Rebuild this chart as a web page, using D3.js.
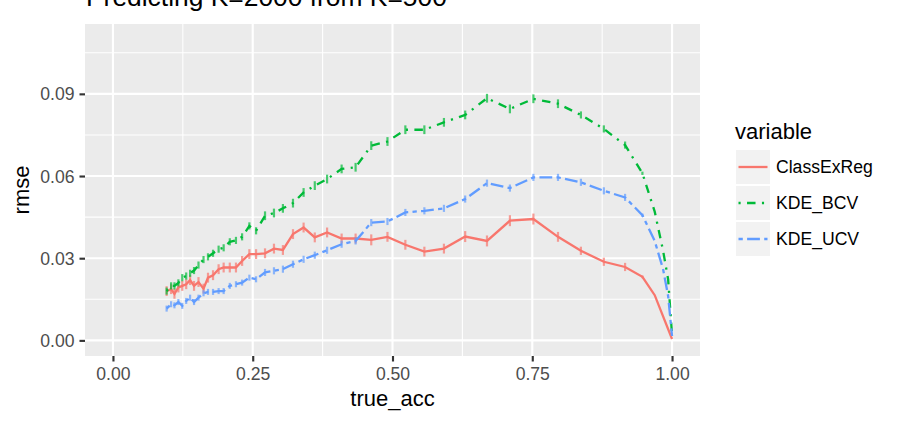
<!DOCTYPE html>
<html>
<head>
<meta charset="utf-8">
<script src="https://cdn.jsdelivr.net/npm/d3@7"></script>
<style>
  body { margin: 0; background: #fff; }
  text { font-family: "Liberation Sans", Arial, Helvetica, sans-serif; }
</style>
</head>
<body>
<script>
var width = 900, height = 424;

// shared x positions (true accuracy)
var trueAcc = [0.096, 0.104, 0.110, 0.117, 0.124, 0.131, 0.138, 0.145, 0.153, 0.162,
  0.170, 0.179, 0.189, 0.198, 0.209, 0.220, 0.231, 0.244, 0.256, 0.272,
  0.288, 0.304, 0.322, 0.341, 0.361, 0.383, 0.409, 0.434, 0.462, 0.491,
  0.523, 0.557, 0.592, 0.630, 0.669, 0.710, 0.752, 0.796, 0.837, 0.878,
  0.916, 0.947, 0.969, 0.984, 0.993, 1.000];

var classExReg = [0.0180, 0.0187, 0.0170, 0.0193, 0.0199, 0.0205, 0.0220, 0.0199, 0.0213, 0.0189,
  0.0229, 0.0238, 0.0260, 0.0266, 0.0266, 0.0266, 0.0290, 0.0315, 0.0315, 0.0318,
  0.0335, 0.0330, 0.0388, 0.0412, 0.0376, 0.0394, 0.0372, 0.0372, 0.0367, 0.0378,
  0.0349, 0.0324, 0.0335, 0.0379, 0.0363, 0.0437, 0.0443, 0.0378, 0.0327, 0.0287,
  0.0268, 0.0232, 0.0165, null, null, 0.0005];

var kdeBCV = [0.0180, 0.0199, 0.0199, 0.0210, 0.0229, 0.0235, 0.0245, 0.0255, 0.0275, 0.0295,
  0.0305, 0.0318, 0.0333, 0.0338, 0.0360, 0.0365, 0.0378, 0.0418, 0.0400, 0.0455,
  0.0465, 0.0482, 0.0501, 0.0540, 0.0565, 0.0589, 0.0626, 0.0632, 0.0711, 0.0726,
  0.0769, 0.0769, 0.0796, 0.0823, 0.0884, 0.0845, 0.0882, 0.0864, 0.0823, 0.0772,
  0.0713, 0.0610, 0.0470, 0.0327, 0.0223, 0.0020];

var kdeUCV = [0.0116, 0.0132, 0.0128, 0.0140, 0.0126, 0.0144, 0.0156, 0.0140, 0.0156, 0.0172,
  0.0177, 0.0177, 0.0180, 0.0180, 0.0199, 0.0205, 0.0211, 0.0229, 0.0223, 0.0248,
  0.0254, 0.0260, 0.0278, 0.0296, 0.0311, 0.0329, 0.0351, 0.0363, 0.0430, 0.0434,
  0.0467, 0.0473, 0.0482, 0.0516, 0.0574, 0.0556, 0.0595, 0.0595, 0.0577, 0.0546,
  0.0522, 0.0457, 0.0363, 0.0260, 0.0162, 0.0016];

// half-width of the error bars
var errClassExReg = [0.0018, 0.0018, 0.0018, 0.0018, 0.0018, 0.0018, 0.0018, 0.0018, 0.0018, 0.0018,
  0.0018, 0.0018, 0.0018, 0.0018, 0.0018, 0.0018, 0.0018, 0.0018, 0.0018, 0.0018,
  0.0018, 0.0018, 0.0018, 0.0018, 0.0018, 0.0018, 0.0018, 0.0018, 0.0020, 0.0018,
  0.0018, 0.0018, 0.0018, 0.0020, 0.0020, 0.0020, 0.0020, 0.0018, 0.0015, 0.0015,
  0.0015, 0.0005, 0, 0, 0, 0];
var errBCV = [0.0013, 0.0013, 0.0013, 0.0013, 0.0013, 0.0013, 0.0013, 0.0013, 0.0013, 0.0013,
  0.0013, 0.0013, 0.0013, 0.0013, 0.0013, 0.0013, 0.0013, 0.0013, 0.0013, 0.0016,
  0.0016, 0.0016, 0.0016, 0.0016, 0.0016, 0.0016, 0.0016, 0.0016, 0.0016, 0.0016,
  0.0016, 0.0016, 0.0016, 0.0016, 0.0016, 0.0016, 0.0016, 0.0016, 0.0013, 0.0013,
  0.0013, 0.0006, 0, 0, 0, 0];
var errUCV = [0.0011, 0.0011, 0.0011, 0.0011, 0.0011, 0.0011, 0.0011, 0.0011, 0.0011, 0.0011,
  0.0011, 0.0011, 0.0011, 0.0011, 0.0011, 0.0011, 0.0011, 0.0011, 0.0011, 0.0013,
  0.0013, 0.0013, 0.0013, 0.0013, 0.0013, 0.0013, 0.0013, 0.0013, 0.0013, 0.0013,
  0.0013, 0.0013, 0.0013, 0.0013, 0.0013, 0.0013, 0.0013, 0.0013, 0.0013, 0.0013,
  0.0013, 0.0006, 0, 0, 0, 0];

var seriesNames = ["ClassExReg", "KDE_BCV", "KDE_UCV"];
var seriesColors = ["#F8766D", "#00BA38", "#619CFF"];
var seriesDash = [null, "2.13,6.4,8.5,6.4", "4.3,4.3,12.8,4.3"];

var xTicks = [0, 0.25, 0.5, 0.75, 1];
var xMinor = [0.125, 0.375, 0.625, 0.875];
var yTicks = [0, 0.03, 0.06, 0.09];
var yMinor = [0.015, 0.045, 0.075, 0.105];

var series = [classExReg, kdeBCV, kdeUCV].map(function(vals, i) {
  var errs = [errClassExReg, errBCV, errUCV][i];
  return {
    name: seriesNames[i],
    color: seriesColors[i],
    dash: seriesDash[i],
    points: trueAcc.map(function(x, j) { return {x: x, y: vals[j], e: errs[j]}; })
      .filter(function(d) { return d.y !== null; })
  };
});

var panel = {left: 85, right: 700, top: 24, bottom: 356};

var x = d3.scaleLinear().domain([-0.05, 1.05]).range([panel.left, panel.right]);
var y = d3.scaleLinear().domain([-0.0057, 0.1155]).range([panel.bottom, panel.top]);

var svg = d3.select("body").append("svg")
    .attr("width", width)
    .attr("height", height);

// panel background
svg.append("rect")
  .attr("x", panel.left).attr("y", panel.top)
  .attr("width", panel.right - panel.left).attr("height", panel.bottom - panel.top)
  .attr("fill", "#EBEBEB");

var grid = svg.append("g");
grid.selectAll(".xminor").data(xMinor).enter().append("line")
  .attr("x1", function(d) { return x(d); }).attr("x2", function(d) { return x(d); })
  .attr("y1", panel.top).attr("y2", panel.bottom)
  .attr("stroke", "#fff").attr("stroke-width", 1.07);
grid.selectAll(".yminor").data(yMinor).enter().append("line")
  .attr("y1", function(d) { return y(d); }).attr("y2", function(d) { return y(d); })
  .attr("x1", panel.left).attr("x2", panel.right)
  .attr("stroke", "#fff").attr("stroke-width", 1.07);
grid.selectAll(".xmajor").data(xTicks).enter().append("line")
  .attr("x1", function(d) { return x(d); }).attr("x2", function(d) { return x(d); })
  .attr("y1", panel.top).attr("y2", panel.bottom)
  .attr("stroke", "#fff").attr("stroke-width", 2.13);
grid.selectAll(".ymajor").data(yTicks).enter().append("line")
  .attr("y1", function(d) { return y(d); }).attr("y2", function(d) { return y(d); })
  .attr("x1", panel.left).attr("x2", panel.right)
  .attr("stroke", "#fff").attr("stroke-width", 2.13);

// axes
var xAxis = d3.axisBottom(x).tickValues(xTicks).tickFormat(d3.format(".2f")).tickSize(5.5).tickPadding(4);
var yAxis = d3.axisLeft(y).tickValues(yTicks).tickFormat(d3.format(".2f")).tickSize(5.5).tickPadding(4);

var gx = svg.append("g").attr("transform", "translate(0," + panel.bottom + ")").call(xAxis);
var gy = svg.append("g").attr("transform", "translate(" + panel.left + ",0)").call(yAxis);
[gx, gy].forEach(function(g) {
  g.select(".domain").remove();
  g.selectAll(".tick line").attr("stroke", "#333333").attr("stroke-width", 2.13);
  g.selectAll(".tick text").attr("fill", "#4D4D4D").style("font-size", "17.6px")
    .style("font-family", "'Liberation Sans', Arial, sans-serif");
});
gx.selectAll(".tick text").attr("dy", null).attr("y", 24);
gy.selectAll(".tick text").attr("x", -10.5).attr("dy", "0.34em");

// error bars then lines
var lineGen = d3.line().x(function(d) { return x(d.x); }).y(function(d) { return y(d.y); });

series.forEach(function(s) {
  var g = svg.append("g");
  g.selectAll("line").data(s.points.filter(function(d) { return d.e > 0; })).enter().append("line")
    .attr("x1", function(d) { return x(d.x); }).attr("x2", function(d) { return x(d.x); })
    .attr("y1", function(d) { return y(d.y - d.e); }).attr("y2", function(d) { return y(d.y + d.e); })
    .attr("stroke", s.color).attr("stroke-width", 2.2).attr("stroke-opacity", 0.7);
  g.append("path").datum(s.points)
    .attr("d", lineGen)
    .attr("fill", "none")
    .attr("stroke", s.color)
    .attr("stroke-width", 2.3)
    .attr("stroke-dasharray", s.dash);
});

// titles
svg.append("text").attr("x", 86).attr("y", 6)
  .style("font-size", "26.4px").attr("fill", "#000")
  .text("Predicting K=2000 from K=500");

svg.append("text").attr("x", (panel.left + panel.right) / 2).attr("y", 406)
  .attr("text-anchor", "middle").style("font-size", "22px").attr("fill", "#000")
  .text("true_acc");

svg.append("text")
  .attr("transform", "translate(28.5," + ((panel.top + panel.bottom) / 2) + ") rotate(-90)")
  .attr("text-anchor", "middle").style("font-size", "22px").attr("fill", "#000")
  .text("rmse");

// legend
var legend = svg.append("g");
legend.append("text").attr("x", 735).attr("y", 139)
  .style("font-size", "22px").attr("fill", "#000").text("variable");

var keys = legend.selectAll(".key").data(series).enter().append("g")
  .attr("transform", function(d, i) { return "translate(735," + (149 + i * 36) + ")"; });
keys.append("rect").attr("x", 0.5).attr("y", 0.5).attr("width", 35).attr("height", 35)
  .attr("fill", "#F2F2F2").attr("stroke", "#fff").attr("stroke-width", 1);
keys.append("line").attr("x1", 3.5).attr("x2", 32.5).attr("y1", 18).attr("y2", 18)
  .attr("stroke", function(d) { return d.color; }).attr("stroke-width", 2.3)
  .attr("stroke-dasharray", function(d) { return d.dash; });
keys.append("text").attr("x", 41).attr("y", 18).attr("dy", "0.35em")
  .style("font-size", "17.6px").attr("fill", "#000")
  .text(function(d) { return d.name; });
</script>
</body>
</html>
